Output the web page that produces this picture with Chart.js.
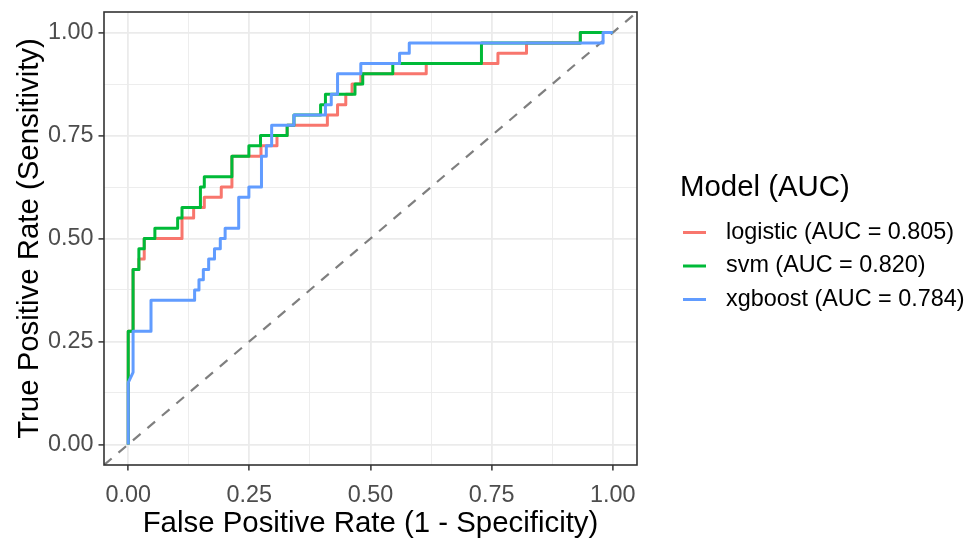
<!DOCTYPE html>
<html>
<head>
<meta charset="utf-8">
<script src="https://cdn.jsdelivr.net/npm/chart.js@4/dist/chart.umd.min.js"></script>
<style>
  html, body { margin: 0; padding: 0; background: #ffffff; }
  canvas { display: block; }
</style>
</head>
<body>
<canvas id="roc" width="966" height="540"></canvas>
<script>
// ROC curves of three classifiers on the same test set
const modelNames = ['logistic', 'svm', 'xgboost'];
const aucValues = [0.805, 0.820, 0.784];
const modelColors = ['#F8766D', '#00BA38', '#619CFF'];

const logisticFpr = [0, 0, 0.010, 0.010, 0.022, 0.022, 0.033, 0.033, 0.111, 0.111, 0.135, 0.135, 0.157, 0.157, 0.192, 0.192, 0.214, 0.214, 0.274, 0.274, 0.307, 0.307, 0.328, 0.328, 0.411, 0.411, 0.432, 0.432, 0.449, 0.449, 0.462, 0.462, 0.480, 0.480, 0.615, 0.615, 0.763, 0.763, 0.822, 0.822, 0.933, 0.933, 1];
const logisticTpr = [0, 0.275, 0.275, 0.425, 0.425, 0.450, 0.450, 0.500, 0.500, 0.550, 0.550, 0.575, 0.575, 0.600, 0.600, 0.625, 0.625, 0.700, 0.700, 0.725, 0.725, 0.750, 0.750, 0.775, 0.775, 0.800, 0.800, 0.825, 0.825, 0.850, 0.850, 0.875, 0.875, 0.900, 0.900, 0.925, 0.925, 0.950, 0.950, 0.975, 0.975, 1, 1];

const svmFpr = [0, 0, 0.010, 0.010, 0.022, 0.022, 0.033, 0.033, 0.055, 0.055, 0.102, 0.102, 0.111, 0.111, 0.149, 0.149, 0.157, 0.157, 0.214, 0.214, 0.249, 0.249, 0.273, 0.273, 0.328, 0.328, 0.342, 0.342, 0.397, 0.397, 0.407, 0.407, 0.468, 0.468, 0.484, 0.484, 0.546, 0.546, 0.729, 0.729, 0.933, 0.933, 1];
const svmTpr = [0, 0.275, 0.275, 0.425, 0.425, 0.475, 0.475, 0.500, 0.500, 0.525, 0.525, 0.550, 0.550, 0.575, 0.575, 0.625, 0.625, 0.650, 0.650, 0.700, 0.700, 0.725, 0.725, 0.750, 0.750, 0.775, 0.775, 0.800, 0.800, 0.825, 0.825, 0.850, 0.850, 0.875, 0.875, 0.900, 0.900, 0.925, 0.925, 0.975, 0.975, 1, 1];

const xgboostFpr = [0, 0, 0.010, 0.010, 0.047, 0.047, 0.137, 0.137, 0.146, 0.146, 0.155, 0.155, 0.166, 0.166, 0.178, 0.178, 0.190, 0.190, 0.200, 0.200, 0.228, 0.228, 0.249, 0.249, 0.275, 0.275, 0.285, 0.285, 0.296, 0.296, 0.342, 0.342, 0.407, 0.407, 0.419, 0.419, 0.432, 0.432, 0.480, 0.480, 0.560, 0.560, 0.580, 0.580, 0.980, 0.980, 1];
const xgboostTpr = [0, 0.150, 0.175, 0.275, 0.275, 0.350, 0.350, 0.375, 0.375, 0.400, 0.400, 0.425, 0.425, 0.450, 0.450, 0.475, 0.475, 0.500, 0.500, 0.525, 0.525, 0.600, 0.600, 0.625, 0.625, 0.700, 0.700, 0.725, 0.725, 0.775, 0.775, 0.800, 0.800, 0.825, 0.825, 0.850, 0.850, 0.900, 0.900, 0.925, 0.925, 0.950, 0.950, 0.975, 0.975, 1, 1];

const majorTicks = [0, 0.25, 0.5, 0.75, 1];
const majorTickLabels = ['0.00', '0.25', '0.50', '0.75', '1.00'];
const minorTicks = [0.125, 0.375, 0.625, 0.875];

const axisMin = -0.05;
const axisMax = 1.05;

const xTitle = 'False Positive Rate (1 - Specificity)';
const yTitle = 'True Positive Rate (Sensitivity)';
const legendTitle = 'Model (AUC)';

const FONT = "'Liberation Sans', Arial, Helvetica, sans-serif";
const TITLE_SIZE = 29.4;
const TEXT_SIZE = 23.4;
Chart.defaults.font.family = FONT;

const seriesFpr = [logisticFpr, svmFpr, xgboostFpr];
const seriesTpr = [logisticTpr, svmTpr, xgboostTpr];

const toPoints = (xs, ys) => xs.map((x, i) => ({ x: x, y: ys[i] }));

const datasets = modelNames.map((name, i) => ({
  label: name + ' (AUC = ' + aucValues[i].toFixed(3) + ')',
  data: toPoints(seriesFpr[i], seriesTpr[i]),
  borderColor: modelColors[i],
  borderWidth: 3,
  borderJoinStyle: 'round',
  borderCapStyle: 'butt',
  pointRadius: 0,
  tension: 0,
  fill: false,
  order: modelNames.length - 1 - i,
  isModel: true
}));

// chance line y = x across the full axis range
datasets.push({
  label: 'chance',
  data: toPoints([axisMin, axisMax], [axisMin, axisMax]),
  borderColor: '#7F7F7F',
  borderWidth: 2.2,
  borderDash: [10, 9],
  pointRadius: 0,
  fill: false,
  order: 10,
  isModel: false
});

const isMajor = v => majorTicks.some(m => Math.abs(m - v) < 1e-9);
const allTicks = majorTicks.concat(minorTicks).sort((a, b) => a - b);

function axisOptions(titleText, titlePadding, labelPadding) {
  return {
    type: 'linear',
    min: axisMin,
    max: axisMax,
    afterBuildTicks: scale => { scale.ticks = allTicks.map(v => ({ value: v })); },
    ticks: {
      autoSkip: false,
      maxRotation: 0,
      color: '#4D4D4D',
      font: { size: TEXT_SIZE },
      padding: labelPadding,
      callback: value => {
        const k = majorTicks.findIndex(m => Math.abs(m - value) < 1e-9);
        return k >= 0 ? majorTickLabels[k] : '';
      }
    },
    grid: {
      color: '#EBEBEB',
      lineWidth: ctx => (ctx.tick && isMajor(ctx.tick.value)) ? 1.8 : 0.9,
      drawTicks: true,
      tickLength: 5.5,
      tickWidth: 1.5,
      tickColor: ctx => (ctx.tick && isMajor(ctx.tick.value)) ? '#333333' : 'rgba(0,0,0,0)'
    },
    border: { display: false },
    title: {
      display: true,
      text: titleText,
      color: '#000000',
      font: { size: TITLE_SIZE },
      padding: titlePadding
    }
  };
}

const xAxis = axisOptions(xTitle, { top: 0, bottom: -2 }, 11);
xAxis.position = 'bottom';
xAxis.afterFit = scale => {
  scale.height = 75;
  scale.paddingLeft = 0;
  scale.paddingRight = 0;
};

const yAxis = axisOptions(yTitle, { top: 12, bottom: 0 }, 5);
yAxis.position = 'left';
yAxis.afterFit = scale => {
  scale.width = 104;
  scale.paddingTop = 0;
  scale.paddingBottom = 0;
};

// frame around the plotting panel
const panelFrame = {
  id: 'panelFrame',
  afterDraw(chart) {
    const { ctx, chartArea: a } = chart;
    ctx.save();
    ctx.strokeStyle = '#333333';
    ctx.lineWidth = 1.6;
    ctx.strokeRect(a.left, a.top, a.right - a.left, a.bottom - a.top);
    ctx.restore();
  }
};

// legend drawn to the right of the panel
const sideLegend = {
  id: 'sideLegend',
  afterDraw(chart) {
    const { ctx, chartArea: a } = chart;
    const mid = (a.top + a.bottom) / 2;
    const x0 = a.right + 43;
    ctx.save();
    ctx.textBaseline = 'middle';
    ctx.textAlign = 'left';
    ctx.fillStyle = '#000000';
    ctx.font = TITLE_SIZE + 'px ' + FONT;
    ctx.fillText(legendTitle, x0, mid - 51);
    ctx.font = TEXT_SIZE + 'px ' + FONT;
    const models = chart.data.datasets.filter(d => d.isModel);
    models.forEach((d, i) => {
      const y = mid - 6 + i * 33.5;
      ctx.strokeStyle = d.borderColor;
      ctx.lineWidth = 3;
      ctx.beginPath();
      ctx.moveTo(x0 + 3, y);
      ctx.lineTo(x0 + 26, y);
      ctx.stroke();
      ctx.fillStyle = '#000000';
      ctx.fillText(d.label, x0 + 46, y);
    });
    ctx.restore();
  }
};

new Chart(document.getElementById('roc'), {
  type: 'line',
  data: { datasets: datasets },
  options: {
    responsive: false,
    devicePixelRatio: 1,
    animation: false,
    layout: { padding: { top: 12, right: 329, bottom: 0, left: 0 } },
    scales: { x: xAxis, y: yAxis },
    plugins: {
      legend: { display: false },
      tooltip: { enabled: false }
    }
  },
  plugins: [panelFrame, sideLegend]
});
</script>
</body>
</html>
